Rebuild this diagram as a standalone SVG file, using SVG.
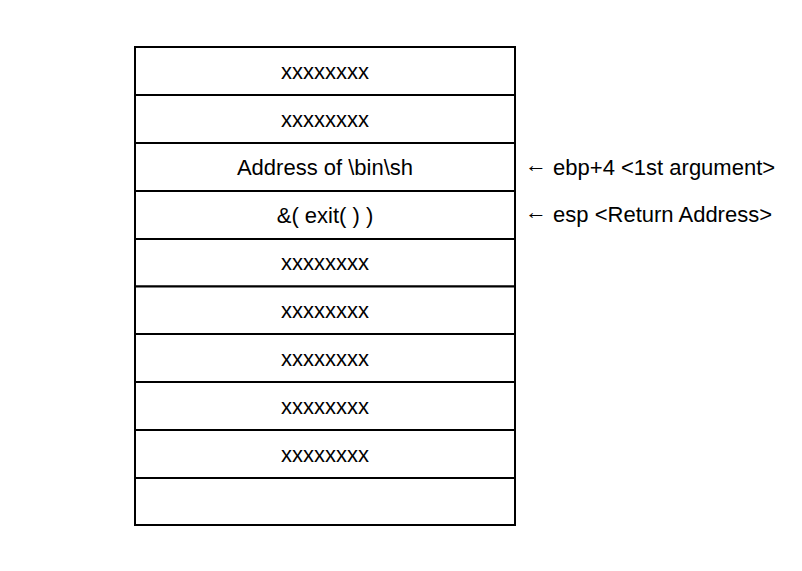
<svg xmlns="http://www.w3.org/2000/svg" width="802" height="571" viewBox="0 0 802 571">
<style>
.cell{fill:#fff;stroke:#000;stroke-width:2}
.t{font-family:"Liberation Sans",Arial,sans-serif;font-size:22px;fill:#000;text-anchor:middle}
.l{font-family:"Liberation Sans",Arial,sans-serif;font-size:22px;fill:#000}
</style>
<rect width="802" height="571" fill="#fff"/>
<g id="row1"><rect class="cell" x="135" y="47" width="380" height="48"/><text class="t" x="325" y="79">xxxxxxxx</text></g>
<g id="row2"><rect class="cell" x="135" y="95" width="380" height="48"/><text class="t" x="325" y="127">xxxxxxxx</text></g>
<g id="row3"><rect class="cell" x="135" y="143" width="380" height="48"/><text class="t" x="325" y="175">Address of \bin\sh</text></g>
<g id="row4"><rect class="cell" x="135" y="191" width="380" height="48"/><text class="t" x="325" y="223">&amp;( exit( ) )</text></g>
<g id="row5"><rect class="cell" x="135" y="239" width="380" height="47.5"/><text class="t" x="325" y="270">xxxxxxxx</text></g>
<g id="row6"><rect class="cell" x="135" y="286.5" width="380" height="47.5"/><text class="t" x="325" y="318">xxxxxxxx</text></g>
<g id="row7"><rect class="cell" x="135" y="334" width="380" height="48"/><text class="t" x="325" y="366">xxxxxxxx</text></g>
<g id="row8"><rect class="cell" x="135" y="382" width="380" height="48"/><text class="t" x="325" y="414">xxxxxxxx</text></g>
<g id="row9"><rect class="cell" x="135" y="430" width="380" height="48"/><text class="t" x="325" y="462">xxxxxxxx</text></g>
<g id="row10"><rect class="cell" x="135" y="478" width="380" height="47"/></g>
<g id="labels">
<text class="l" x="525" y="175"><tspan dy="-3">←</tspan><tspan dy="3"> ebp+4 &lt;1st argument&gt;</tspan></text>
<text class="l" x="525" y="222"><tspan dy="-3">←</tspan><tspan dy="3"> esp &lt;Return Address&gt;</tspan></text>
</g>
<g id="connectors"></g>
</svg>
